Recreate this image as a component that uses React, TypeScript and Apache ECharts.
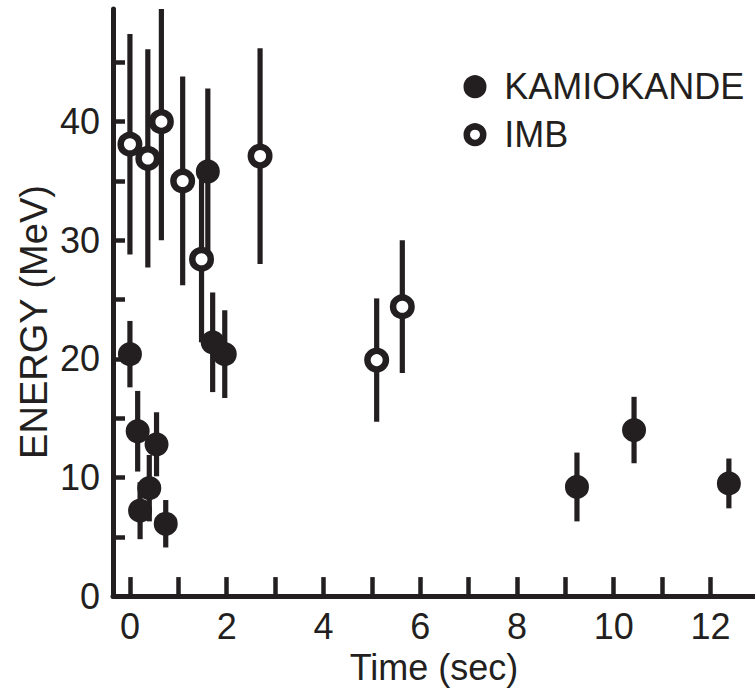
import React, { useEffect, useRef } from "react";
import * as echarts from "echarts";

// KAMIOKANDE events (filled circles)
const kamTime = [0, 0.16, 0.21, 0.4, 0.55, 0.74, 1.61, 1.71, 1.96, 9.24, 10.42, 12.38];
const kamEnergy = [20.4, 13.9, 7.2, 9.1, 12.8, 6.1, 35.8, 21.4, 20.4, 9.2, 14.0, 9.5];
const kamErr = [2.8, 3.4, 2.4, 2.8, 2.7, 2.0, 7.0, 4.2, 3.7, 2.9, 2.8, 2.1];

// IMB events (open circles)
const imbTime = [0, 0.37, 0.65, 1.09, 1.48, 2.69, 5.1, 5.63];
const imbEnergy = [38.1, 36.9, 40.0, 35.0, 28.4, 37.1, 19.9, 24.4];
const imbErr = [9.3, 9.2, 10.0, 8.8, 7.0, 9.1, 5.2, 5.6];

// Axis ticks and labels
const xTicks = [0, 1, 2, 3, 4, 5, 6, 7, 8, 9, 10, 11, 12];
const xLabels = [0, 2, 4, 6, 8, 10, 12];
const yTicks = [0, 5, 10, 15, 20, 25, 30, 35, 40, 45];
const yLabels = [0, 10, 20, 30, 40];

const INK = "#231f20";
const FONT = "'Liberation Sans', Arial, Helvetica, sans-serif";

export default function App() {
  const ref = useRef<HTMLDivElement>(null);

  useEffect(() => {
    if (!ref.current) return;
    const chart = echarts.init(ref.current, null, { renderer: "svg" });

    const errData = [
      ...kamTime.map((t, i) => [t, kamEnergy[i] - kamErr[i], kamEnergy[i] + kamErr[i]]),
      ...imbTime.map((t, i) => [t, imbEnergy[i] - imbErr[i], imbEnergy[i] + imbErr[i]]),
    ];

    chart.setOption({
      animation: false,
      backgroundColor: "#ffffff",
      grid: { left: 113, right: 0, top: 9, bottom: 87, containLabel: false },
      xAxis: {
        type: "value",
        min: -0.35,
        max: 12.92,
        name: "Time (sec)",
        nameLocation: "middle",
        nameGap: 52,
        nameTextStyle: { fontSize: 36, color: INK, fontFamily: FONT },
        axisLine: { show: true, onZero: false, lineStyle: { color: INK, width: 5 } },
        axisTick: {
          show: true,
          inside: true,
          length: 19,
          customValues: xTicks,
          lineStyle: { color: INK, width: 4.5 },
        },
        axisLabel: {
          show: true,
          customValues: xLabels,
          margin: 12,
          fontSize: 36,
          color: INK,
          fontFamily: FONT,
        },
        splitLine: { show: false },
      },
      yAxis: {
        type: "value",
        min: 0,
        max: 49.5,
        axisLine: { show: true, onZero: false, lineStyle: { color: INK, width: 5 } },
        axisTick: {
          show: true,
          inside: true,
          length: 12,
          customValues: yTicks,
          lineStyle: { color: INK, width: 4.5 },
        },
        axisLabel: {
          show: true,
          customValues: yLabels,
          margin: 13,
          fontSize: 36,
          color: INK,
          fontFamily: FONT,
        },
        splitLine: { show: false },
      },
      legend: {
        orient: "vertical",
        left: 463.5,
        top: 68.7,
        padding: 0,
        itemWidth: 16.5,
        itemHeight: 16.5,
        itemGap: 12,
        itemStyle: { borderWidth: 6.5, borderColor: INK },
        data: [
          { name: "KAMIOKANDE", itemStyle: { color: INK } },
          { name: "IMB", itemStyle: { color: "#ffffff" } },
        ],
        textStyle: {
          fontSize: 36,
          lineHeight: 36,
          color: INK,
          fontFamily: FONT,
          padding: [0, 0, 0, 16],
        },
      },
      graphic: [
        {
          type: "text",
          x: 34,
          y: 322,
          rotation: Math.PI / 2,
          style: {
            text: "ENERGY (MeV)",
            fontSize: 38,
            fontFamily: FONT,
            fill: INK,
            align: "center",
            verticalAlign: "middle",
          },
        },
      ],
      series: [
        {
          type: "custom",
          name: "errors",
          clip: true,
          z: 1,
          data: errData,
          encode: { x: 0, y: [1, 2] },
          renderItem: (params: any, api: any) => {
            const t = api.value(0);
            const lo = api.value(1);
            const hi = api.value(2);
            const a = api.coord([t, hi]);
            const b = api.coord([t, lo]);
            return {
              type: "rect",
              shape: { x: a[0] - 2.6, y: a[1], width: 5.2, height: b[1] - a[1] },
              style: { fill: INK },
            };
          },
        },
        {
          type: "scatter",
          name: "KAMIOKANDE",
          z: 3,
          symbol: "circle",
          symbolSize: 17.5,
          itemStyle: { color: INK, borderColor: INK, borderWidth: 6.5, opacity: 1 },
          data: kamTime.map((t, i) => [t, kamEnergy[i]]),
        },
        {
          type: "scatter",
          name: "IMB",
          z: 4,
          symbol: "circle",
          symbolSize: 18.5,
          itemStyle: { color: "#ffffff", borderColor: INK, borderWidth: 6.5, opacity: 1 },
          data: imbTime.map((t, i) => [t, imbEnergy[i]]),
        },
      ],
    });

    return () => chart.dispose();
  }, []);

  return <div ref={ref} style={{ width: 755, height: 690, position: "absolute", left: 0, top: 0 }} />;
}
